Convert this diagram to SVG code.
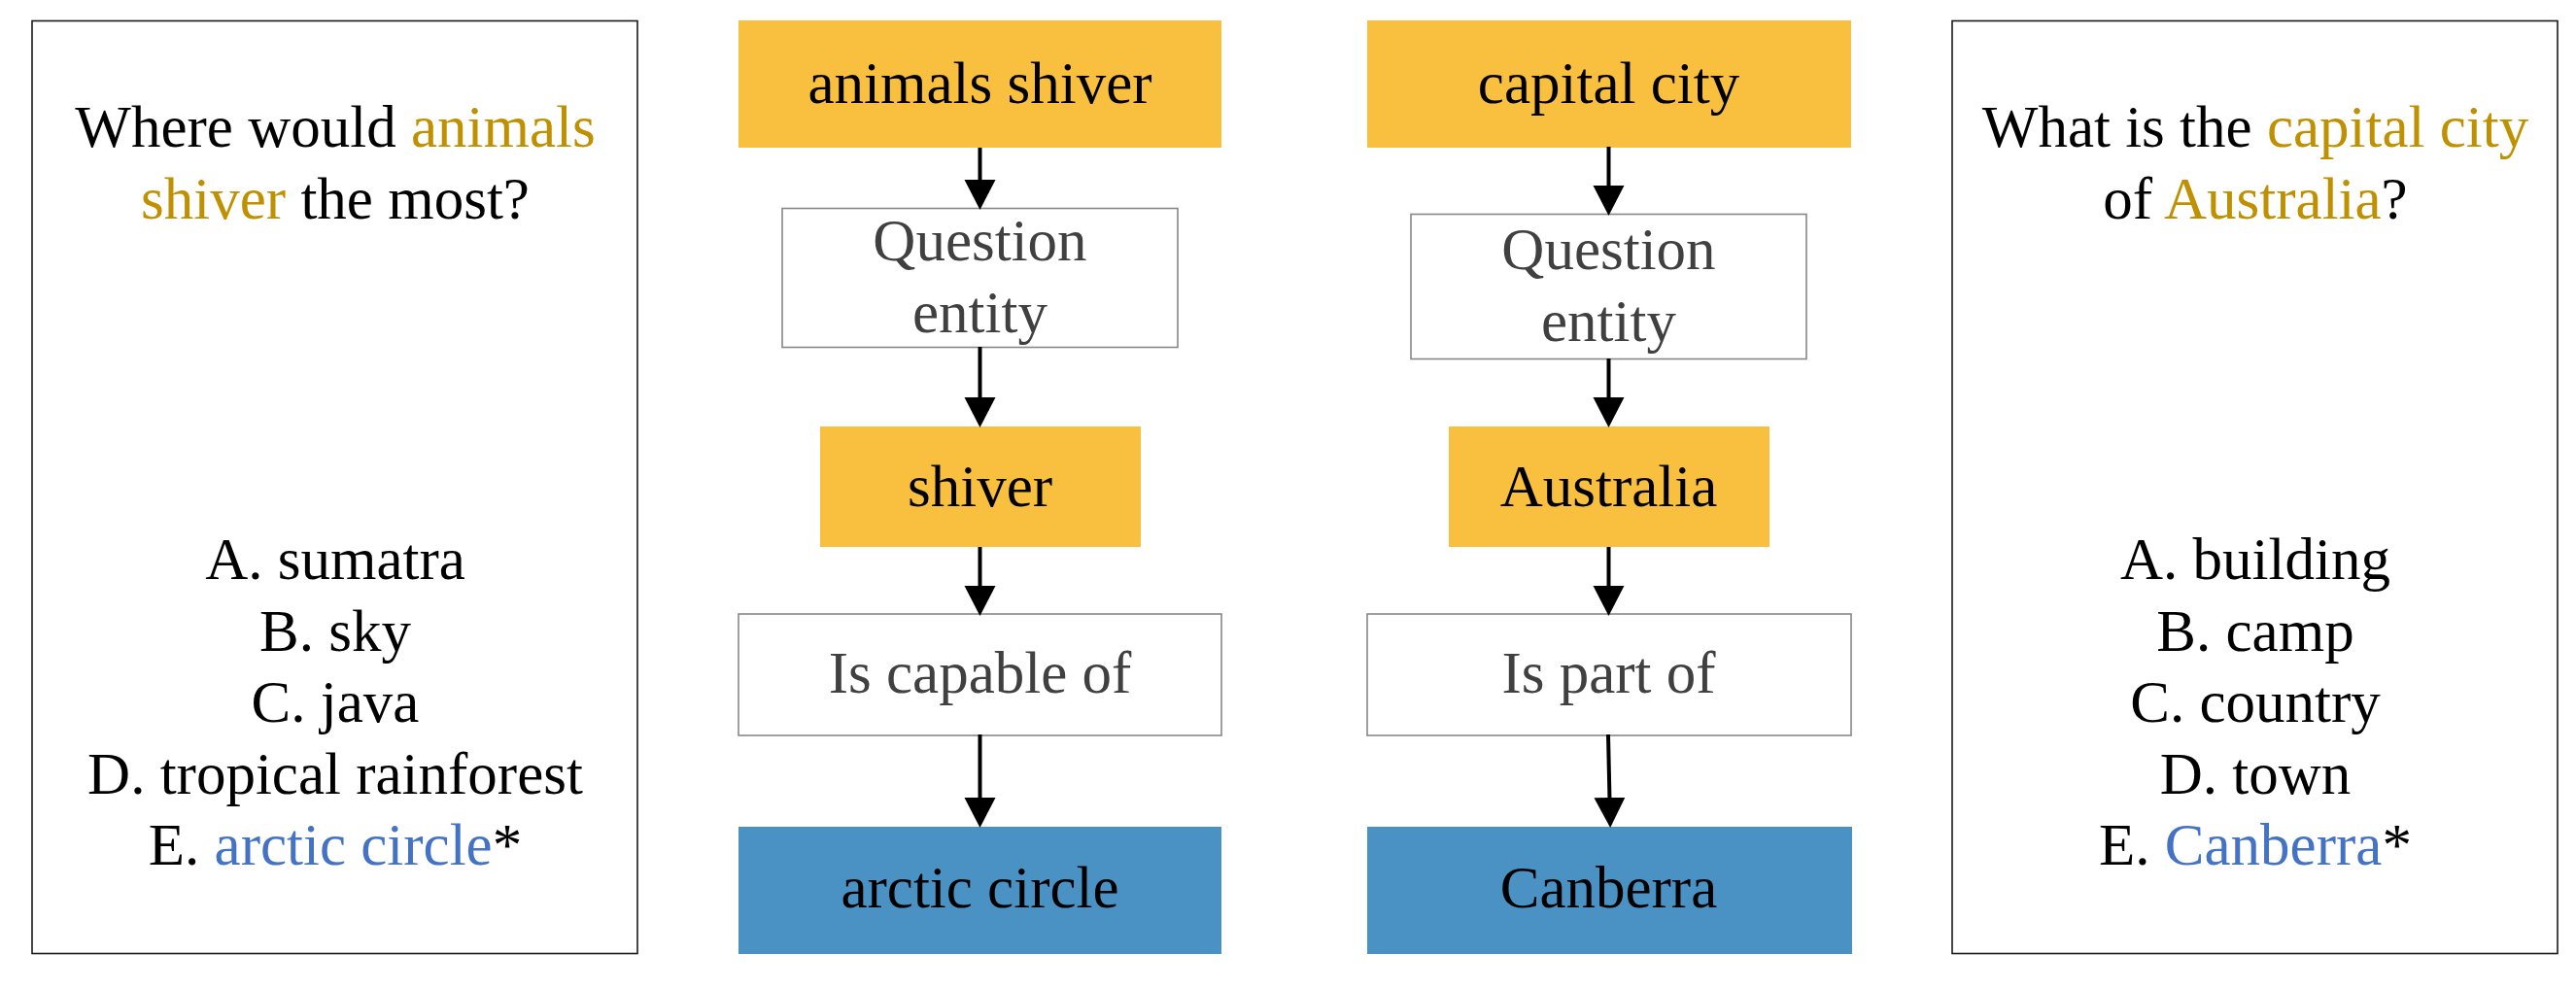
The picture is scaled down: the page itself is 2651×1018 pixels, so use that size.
<svg xmlns="http://www.w3.org/2000/svg" width="2651" height="1018" viewBox="0 0 2651 1018">
<style>
text{font-family:'Liberation Serif','Times New Roman',serif;font-size:61px;text-anchor:middle;fill:#000}
.panel{fill:#fff;stroke:#1a1a1a;stroke-width:1.6}
.ent{fill:#F9BF3F}
.ans{fill:#4A92C4}
.rel{fill:#fff;stroke:#888;stroke-width:1.6}
.reltxt{fill:#404040}
.hl{fill:#BF9000}
.bl{fill:#4472C4}
.conn line{stroke:#000;stroke-width:4;fill:none;marker-end:url(#ah)}
</style>
<defs>
<marker id="ah" markerUnits="userSpaceOnUse" markerWidth="33" markerHeight="34" viewBox="0 -17 33 34" refX="2" refY="0" orient="auto">
<path d="M0,-16 L31,0 L0,16 Z" fill="#000"/>
</marker>
</defs>
<rect width="2651" height="1018" fill="#fff"/>

<g id="question-left">
<rect class="panel" x="33" y="21.5" width="623" height="960"/>
<text x="345" y="151">Where would <tspan class="hl">animals</tspan></text>
<text x="345" y="225"><tspan class="hl">shiver</tspan> the most?</text>
<text x="345" y="596">A. sumatra</text>
<text x="345" y="670">B. sky</text>
<text x="345" y="743">C. java</text>
<text x="345" y="817">D. tropical rainforest</text>
<text x="345" y="890">E. <tspan class="bl">arctic circle</tspan>*</text>
</g>

<g id="n-animals-shiver">
<rect class="ent" x="760" y="21" width="497" height="131"/>
<text x="1008.5" y="106">animals shiver</text>
</g>
<g id="n-question-entity-1">
<rect class="rel" x="805" y="214.5" width="407" height="143"/>
<text class="reltxt" x="1008.5" y="268">Question</text>
<text class="reltxt" x="1008.5" y="342">entity</text>
</g>
<g id="n-shiver">
<rect class="ent" x="844" y="439" width="330" height="124"/>
<text x="1008.5" y="521">shiver</text>
</g>
<g id="n-is-capable-of">
<rect class="rel" x="760" y="632" width="497" height="125"/>
<text class="reltxt" x="1008.5" y="713">Is capable of</text>
</g>
<g id="n-arctic-circle">
<rect class="ans" x="760" y="851" width="497" height="131"/>
<text x="1008.5" y="934">arctic circle</text>
</g>

<g id="n-capital-city">
<rect class="ent" x="1407" y="21" width="498" height="131"/>
<text x="1655.5" y="106">capital city</text>
</g>
<g id="n-question-entity-2">
<rect class="rel" x="1452" y="220.5" width="407" height="149"/>
<text class="reltxt" x="1655.5" y="277">Question</text>
<text class="reltxt" x="1655.5" y="351">entity</text>
</g>
<g id="n-australia">
<rect class="ent" x="1491" y="439" width="330" height="124"/>
<text x="1655.5" y="521">Australia</text>
</g>
<g id="n-is-part-of">
<rect class="rel" x="1407" y="632" width="498" height="125"/>
<text class="reltxt" x="1655.5" y="713">Is part of</text>
</g>
<g id="n-canberra">
<rect class="ans" x="1407" y="851" width="499" height="131"/>
<text x="1655.5" y="934">Canberra</text>
</g>

<g id="question-right">
<rect class="panel" x="2009" y="21.5" width="623" height="960"/>
<text x="2321" y="151">What is the <tspan class="hl">capital city</tspan></text>
<text x="2321" y="225">of <tspan class="hl">Australia</tspan>?</text>
<text x="2321" y="596">A. building</text>
<text x="2321" y="670">B. camp</text>
<text x="2321" y="743">C. country</text>
<text x="2321" y="817">D. town</text>
<text x="2321" y="890">E. <tspan class="bl">Canberra</tspan>*</text>
</g>

<g id="connectors" class="conn">
<line x1="1008.5" y1="152" x2="1008.5" y2="187"/>
<line x1="1008.5" y1="357" x2="1008.5" y2="411"/>
<line x1="1008.5" y1="563" x2="1008.5" y2="605"/>
<line x1="1008.5" y1="756" x2="1008.5" y2="823"/>
<line x1="1655.5" y1="151" x2="1655.5" y2="193"/>
<line x1="1655.5" y1="369" x2="1655.5" y2="411"/>
<line x1="1655.5" y1="563" x2="1655.5" y2="605"/>
<line x1="1655" y1="756" x2="1656.5" y2="823"/>
</g>
</svg>
